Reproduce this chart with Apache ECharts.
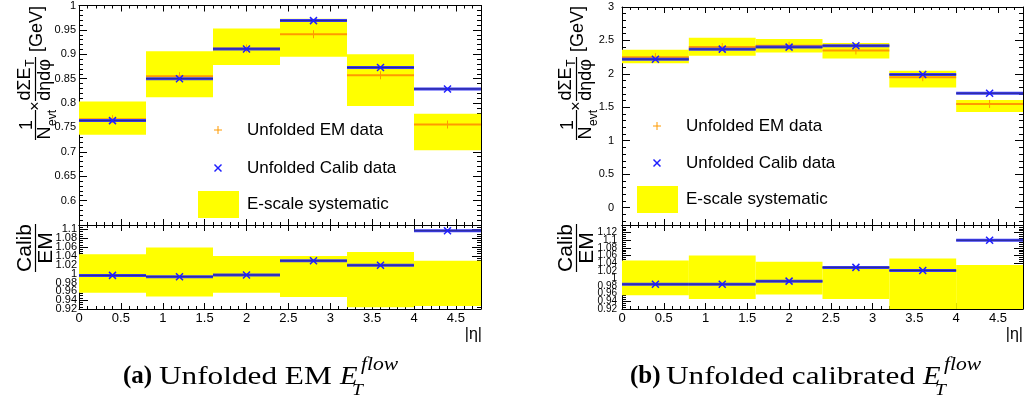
<!DOCTYPE html>
<html><head><meta charset="utf-8">
<script src="https://cdn.jsdelivr.net/npm/echarts@6/dist/echarts.min.js"></script>
<style>html,body{margin:0;padding:0;background:#fff}#c{width:1033px;height:400px}</style>
</head><body><div id="c"></div>
<script>
// ---------- data ----------
const binEdges = [0, 0.8, 1.6, 2.4, 3.2, 4.0, 4.8];
const binCenters = [0.4, 1.2, 2.0, 2.8, 3.6, 4.4];
const xTickLabels = [0, 0.5, 1, 1.5, 2, 2.5, 3, 3.5, 4, 4.5];

// panel (a): Unfolded EM
const emA = [0.767, 0.855, 0.912, 0.941, 0.857, 0.756];
const calibA = [0.764, 0.850, 0.911, 0.969, 0.873, 0.829];
const sysLoA = [0.735, 0.812, 0.878, 0.895, 0.794, 0.703];
const sysHiA = [0.803, 0.906, 0.953, 0.973, 0.900, 0.778];
const ratioA = [0.996, 0.993, 0.997, 1.029, 1.019, 1.097];
const ratioSysLoA = [0.957, 0.948, 0.957, 0.947, 0.924, 0.927];
const ratioSysHiA = [1.044, 1.059, 1.040, 1.040, 1.049, 1.029];
const yLabelsMainA = [0.6, 0.65, 0.7, 0.75, 0.8, 0.85, 0.9, 0.95, 1];
const yLabelsRatioA = [0.92, 0.94, 0.96, 0.98, 1, 1.02, 1.04, 1.06, 1.08, 1.1];

// panel (b): Unfolded calibrated
const emB = [2.25, 2.40, 2.42, 2.35, 1.95, 1.55];
const calibB = [2.22, 2.37, 2.40, 2.42, 1.99, 1.71];
const sysLoB = [2.16, 2.27, 2.32, 2.23, 1.795, 1.43];
const sysHiB = [2.36, 2.54, 2.52, 2.46, 2.045, 1.61];
const ratioB = [0.985, 0.985, 0.993, 1.029, 1.021, 1.100];
const ratioSysLoB = [0.956, 0.946, 0.958, 0.946, 0.915, 0.915];
const ratioSysHiB = [1.047, 1.060, 1.044, 1.032, 1.052, 1.035];
const yLabelsMainB = [0, 0.5, 1, 1.5, 2, 2.5, 3];
const yLabelsRatioB = [0.92, 0.94, 0.96, 0.98, 1, 1.02, 1.04, 1.06, 1.08, 1.1, 1.12];

// ---------- helpers ----------
const SANS = '"Liberation Sans", Arial, sans-serif';
const SERIF = '"Liberation Serif", "Times New Roman", serif';
function range(a, b, step) {
  const out = []; const n = Math.round((b - a) / step);
  for (let i = 0; i <= n; i++) out.push(+(a + i * step).toFixed(6));
  return out;
}
const fmt = v => String(Math.round(v * 1000) / 1000);

const grids = [
  {left: 79, top: 5, width: 402, height: 220},
  {left: 79, top: 225, width: 402, height: 84},
  {left: 622, top: 7, width: 401, height: 218},
  {left: 622, top: 225, width: 401, height: 84}
];

// Labels are split across two stacked axes (even / odd) so that ECharts
// does not drop crowded neighbours of the min / max labels.
function mkAxes(dim, gi, min, max, majors, minors, labels, labelOpts, majLen, minLen) {
  const pos = dim === 'x' ? ['bottom', 'top'] : ['left', 'right'];
  const axes = [];
  const lab = (vals) => Object.assign({show: true, customValues: vals, formatter: fmt,
      color: '#000', fontFamily: SANS, hideOverlap: false}, labelOpts);
  const even = labels ? labels.filter((v, i) => i % 2 === 0) : null;
  const odd = labels ? labels.filter((v, i) => i % 2 === 1) : null;
  pos.forEach((p, k) => {
    axes.push({
      type: 'value', gridIndex: gi, min: min, max: max, position: p,
      axisLine: {show: true, onZero: false, lineStyle: {color: '#000', width: 1}},
      axisTick: {show: true, inside: true, length: majLen, customValues: majors, lineStyle: {color: '#000', width: 1}},
      axisLabel: (k === 0 && labels) ? lab(even) : {show: false},
      splitLine: {show: false}
    });
    axes.push({
      type: 'value', gridIndex: gi, min: min, max: max, position: p,
      axisLine: {show: false, onZero: false},
      axisTick: {show: true, inside: true, length: minLen, customValues: minors, lineStyle: {color: '#000', width: 1}},
      axisLabel: (k === 0 && labels && odd.length) ? lab(odd) : {show: false},
      splitLine: {show: false}
    });
  });
  return axes;
}

const xMaj = xTickLabels, xMin = range(0, 4.8, 0.1);
const xAxes = [].concat(
  mkAxes('x', 0, 0, 4.8, xMaj, xMin, null, null, 6, 3),
  mkAxes('x', 1, 0, 4.8, xMaj, xMin, xTickLabels, {fontSize: 13, margin: 3}, 6, 3),
  mkAxes('x', 2, 0, 4.8, xMaj, xMin, null, null, 6, 3),
  mkAxes('x', 3, 0, 4.8, xMaj, xMin, xTickLabels, {fontSize: 13, margin: 3}, 6, 3)
);
const yAxes = [].concat(
  mkAxes('y', 0, 0.55, 1, range(0.55, 1, 0.05), range(0.55, 1, 0.01), yLabelsMainA, {fontSize: 11, margin: 3}, 8, 4),
  mkAxes('y', 1, 0.92, 1.11, yLabelsRatioA, range(0.92, 1.11, 0.005), yLabelsRatioA, {fontSize: 11, margin: 2}, 9, 4),
  mkAxes('y', 2, -0.26, 3, yLabelsMainB, range(-0.2, 3, 0.1), yLabelsMainB, {fontSize: 11, margin: 8}, 8, 4),
  mkAxes('y', 3, 0.92, 1.14, yLabelsRatioB, range(0.92, 1.14, 0.005), yLabelsRatioB, {fontSize: 10, margin: 5}, 9, 4)
);

function boxRender(params, api) {
  const p0 = api.coord([api.value(0), api.value(2)]);
  const p1 = api.coord([api.value(1), api.value(3)]);
  const cs = params.coordSys;
  const top = Math.max(cs.y, Math.min(p0[1], p1[1]));
  const bot = Math.min(cs.y + cs.height, Math.max(p0[1], p1[1]));
  return {type: 'rect', shape: {x: p0[0], y: top, width: p1[0] - p0[0], height: bot - top},
    style: {fill: '#ffff00'}};
}
function emRender(params, api) {
  const a = api.coord([api.value(0), api.value(3)]);
  const b = api.coord([api.value(1), api.value(3)]);
  const c = api.coord([api.value(2), api.value(3)]);
  const col = '#ff9a00';
  return {type: 'group', children: [
    {type: 'line', shape: {x1: a[0], y1: a[1], x2: b[0], y2: b[1]}, style: {stroke: col, lineWidth: 2}},
    {type: 'line', shape: {x1: c[0], y1: c[1] - 4, x2: c[0], y2: c[1] + 4}, style: {stroke: col, lineWidth: 1}}
  ]};
}
function calibRender(params, api) {
  const a = api.coord([api.value(0), api.value(3)]);
  const b = api.coord([api.value(1), api.value(3)]);
  const c = api.coord([api.value(2), api.value(3)]);
  const r = 3.5;
  return {type: 'group', children: [
    {type: 'line', shape: {x1: a[0], y1: a[1], x2: b[0], y2: b[1]}, style: {stroke: '#3c3cf4', lineWidth: 3}},
    {type: 'line', shape: {x1: a[0], y1: a[1], x2: b[0], y2: b[1]}, style: {stroke: '#2a2a8a', lineWidth: 1}},
    {type: 'line', shape: {x1: c[0] - r, y1: c[1] - r, x2: c[0] + r, y2: c[1] + r}, style: {stroke: '#1f1fff', lineWidth: 1.5}},
    {type: 'line', shape: {x1: c[0] - r, y1: c[1] + r, x2: c[0] + r, y2: c[1] - r}, style: {stroke: '#1f1fff', lineWidth: 1.5}}
  ]};
}
function boxes(gi, lo, hi) {
  return {type: 'custom', xAxisIndex: 4 * gi, yAxisIndex: 4 * gi, silent: true, z: 1,
    data: binCenters.map((c, i) => [binEdges[i], binEdges[i + 1], lo[i], hi[i]]), renderItem: boxRender};
}
function lines(gi, vals, render, z) {
  return {type: 'custom', xAxisIndex: 4 * gi, yAxisIndex: 4 * gi, silent: true, z: z,
    data: binCenters.map((c, i) => [binEdges[i], binEdges[i + 1], c, vals[i]]), renderItem: render};
}

const series = [
  boxes(0, sysLoA, sysHiA), lines(0, emA, emRender, 2), lines(0, calibA, calibRender, 3),
  boxes(1, ratioSysLoA, ratioSysHiA), lines(1, ratioA, calibRender, 3),
  boxes(2, sysLoB, sysHiB), lines(2, emB, emRender, 2), lines(2, calibB, calibRender, 3),
  boxes(3, ratioSysLoB, ratioSysHiB), lines(3, ratioB, calibRender, 3)
];

// ---------- graphic text ----------
const G = [];
function T(text, x, y, size, opts) {
  opts = opts || {};
  const al = opts.align || 'center', va = opts.va || 'middle';
  G.push({type: 'text', x: x, y: y, rotation: opts.rot ? Math.PI / 2 : 0, scaleX: opts.sx || 1, z: 100,
    style: {text: text, font: (opts.style || '') + ' ' + (opts.weight || '') + ' ' + size + 'px ' + (opts.family || SANS),
      fill: '#000', align: al, verticalAlign: va, textAlign: al, textVerticalAlign: va}});
}
function L(x1, y1, x2, y2, color, w) {
  G.push({type: 'line', z: 100, shape: {x1: x1, y1: y1, x2: x2, y2: y2}, style: {stroke: color, lineWidth: w}});
}
function R(x, y, w, h, color) {
  G.push({type: 'rect', z: 99, shape: {x: x, y: y, width: w, height: h}, style: {fill: color}});
}

[0, 541].forEach(dx => {
  const rot = {rot: true};
  T('[GeV]', 37 + dx, 29, 18, rot);
  T('dΣE', 25 + dx, 84, 18, rot);
  T('T', 31 + dx, 63, 12, rot);
  L(35.5 + dx, 57, 35.5 + dx, 101, '#000', 1.2);
  T('dηdφ', 45 + dx, 80, 18, rot);
  T('×', 36 + dx, 106, 16, rot);
  T('1', 27 + dx, 125, 18, rot);
  L(35.5 + dx, 110, 35.5 + dx, 140, '#000', 1.2);
  T('N', 45 + dx, 133, 18, rot);
  T('evt', 53 + dx, 118, 12, rot);
  T('Calib', 25 + dx, 248, 21, rot);
  L(35.5 + dx, 224, 35.5 + dx, 272, '#000', 1.2);
  T('EM', 46 + dx, 248, 21, rot);
});
T('|η|', 482, 335, 16, {align: 'right'});
T('|η|', 1023, 335, 16, {align: 'right'});

// legends
function legend(mx, y1, y2, bx, by, tx, y3) {
  L(mx - 4, y1, mx + 4, y1, '#ff9a00', 1); L(mx, y1 - 4, mx, y1 + 4, '#ff9a00', 1);
  T('Unfolded EM data', tx, y1, 17, {align: 'left'});
  L(mx - 3.5, y2 - 3.5, mx + 3.5, y2 + 3.5, '#1f1fff', 1.5); L(mx - 3.5, y2 + 3.5, mx + 3.5, y2 - 3.5, '#1f1fff', 1.5);
  T('Unfolded Calib data', tx, y2, 17, {align: 'left'});
  R(bx, by, 41, 27, '#ffff00');
  T('E-scale systematic', tx, y3, 17, {align: 'left'});
}
legend(218, 130, 168, 198, 191, 247, 204);
legend(657, 126, 163, 637, 186, 686, 199);

// captions
function caption(x0, label, body, bodyW) {
  T(label, x0, 377, 25, {align: 'left', weight: 'bold', family: SERIF});
  T(body, x0 + 36, 377, 25, {align: 'left', family: SERIF, sx: 1.25});
  const xe = x0 + 36 + bodyW + 8;
  T('E', xe, 377, 25, {align: 'left', style: 'italic', family: SERIF, sx: 1.15});
  T('T', xe + 12, 391, 17, {align: 'left', style: 'italic', family: SERIF, sx: 1.15});
  T('flow', xe + 21, 365, 18, {align: 'left', style: 'italic', family: SERIF, sx: 1.2});
}
caption(123, '(a)', 'Unfolded EM', 173);
caption(630, '(b)', 'Unfolded calibrated', 249);

const chart = echarts.init(document.getElementById('c'), null, {renderer: 'canvas'});
chart.setOption({
  animation: false,
  backgroundColor: '#fff',
  grid: grids,
  xAxis: xAxes,
  yAxis: yAxes,
  series: series,
  graphic: {elements: G}
});
</script></body></html>
